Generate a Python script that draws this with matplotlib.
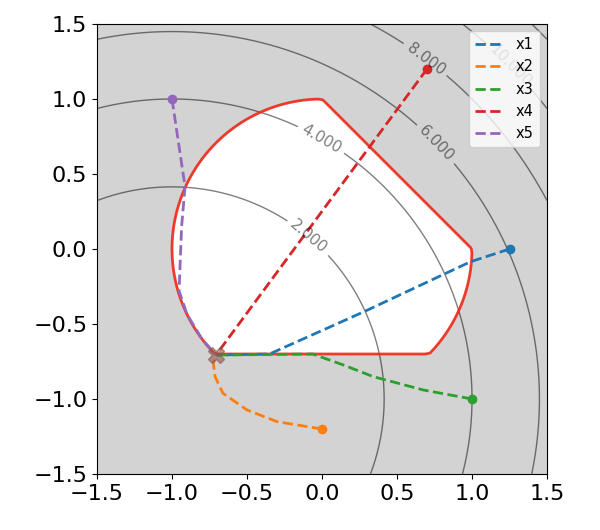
import numpy as np
import matplotlib
matplotlib.use("Agg")
import matplotlib.pyplot as plt

# objective f = (x+1)^2 + (y+1)^2, feasible set: unit disk, x+y<=1, y>=-0.7
center = (-1.0, -1.0)
levels = [2, 4, 6, 8, 10, 12]
labelled = [2, 4, 6, 8, 10]
y_min = -0.7
optimum = (-0.707, -0.707)

# iterate paths
x1_x = [1.25, 0.99, 0.28, -0.35, -0.707]
x1_y = [0.0, -0.085, -0.418, -0.70, -0.707]
x2_x = [0.0, -0.30, -0.50, -0.66, -0.713, -0.724, -0.707]
x2_y = [-1.20, -1.151, -1.073, -0.962, -0.851, -0.762, -0.707]
x3_x = [1.0, 0.676, 0.342, 0.142, -0.062, -0.707]
x3_y = [-1.0, -0.94, -0.851, -0.773, -0.70, -0.707]
x4_x = [0.70, -0.707]
x4_y = [1.20, -0.707]
x5_x = [-1.0, -0.913, -0.936, -0.953, -0.90, -0.80, -0.707]
x5_y = [1.0, 0.415, 0.149, -0.28, -0.436, -0.60, -0.707]
names = ["x1", "x2", "x3", "x4", "x5"]
paths = [(x1_x, x1_y), (x2_x, x2_y), (x3_x, x3_y), (x4_x, x4_y), (x5_x, x5_y)]

fig = plt.figure(figsize=(6, 5.3), dpi=100)
ax = fig.add_axes([97 / 600, 1 - 474 / 530, 450 / 600, 450 / 530])

# constraint violation on a grid
xs = np.linspace(-1.5, 1.5, 101)
X, Y = np.meshgrid(xs, xs)
G = np.maximum(np.maximum(X**2 + Y**2 - 1, X + Y - 1), y_min - Y)
ax.contourf(X, Y, G, levels=[0, 100], colors=["lightgrey"])

xf = np.linspace(-1.5, 1.5, 400)
XF, YF = np.meshgrid(xf, xf)
Z = (XF - center[0])**2 + (YF - center[1])**2
cs = ax.contour(XF, YF, Z, levels=levels, colors="k", alpha=0.5, linewidths=1)
spots = [(-0.08, 0.09), (0.0, 0.74), (0.77, 0.71), (0.70, 1.28), (1.24, 1.21)]
ax.clabel(cs, levels=labelled, fmt="%.3f", fontsize=11, manual=spots)

ax.contour(X, Y, G, levels=[0], colors="#f02818", alpha=0.9, linewidths=2)

for i, (px, py) in enumerate(paths):
    ax.plot(px, py, "--", color=f"C{i}", lw=2, label=names[i])
    ax.plot(px[0], py[0], "o", color=f"C{i}", ms=6)
ax.plot(optimum[0], optimum[1], "X", color="C5", alpha=0.6, ms=12)

ax.set_xlim(-1.5, 1.5)
ax.set_ylim(-1.5, 1.5)
ax.set_xticks([-1.5, -1.0, -0.5, 0.0, 0.5, 1.0, 1.5])
ax.set_yticks([-1.5, -1.0, -0.5, 0.0, 0.5, 1.0, 1.5])
ax.tick_params(labelsize=16)
ax.legend(loc="upper right", fontsize=10.5)

fig.savefig("out.png", dpi=100)
